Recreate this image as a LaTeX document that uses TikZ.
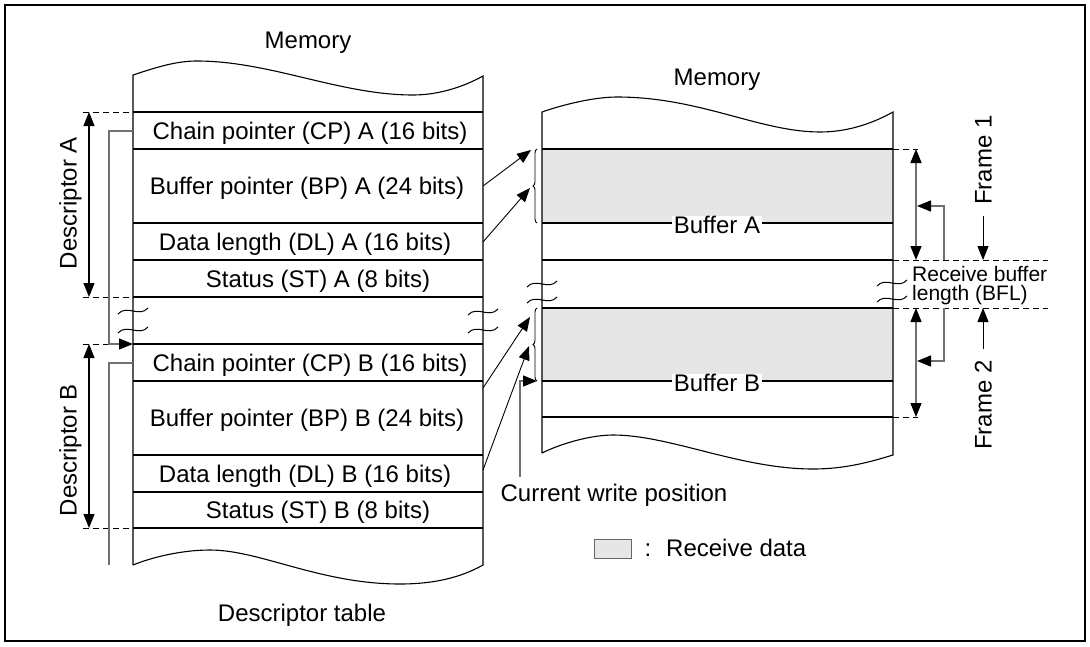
\documentclass[tikz,border=0pt]{standalone}
\usepackage{fontspec}
\setmainfont{Liberation Sans}
\usetikzlibrary{arrows.meta,decorations.pathreplacing}
\definecolor{rcv}{HTML}{E6E6E6}
\definecolor{lgray}{HTML}{707070}
\begin{document}
\begin{tikzpicture}[x=1pt,y=-1pt,
  every node/.style={font=\fontsize{24}{28}\selectfont, inner sep=0pt},
  lbl/.style={text height=17.2pt,text depth=0pt},
  ln/.style={line width=1.1pt},
  tip/.style={-{Triangle[length=14pt,width=11pt,color=black]}},
  dtip/.style={{Triangle[length=14pt,width=11pt,color=black]}-{Triangle[length=14pt,width=11pt,color=black]}},
  gl/.style={draw=lgray, line width=1.3pt},
  dsh/.style={dash pattern=on 6pt off 4pt, line width=1pt},
  brc/.style={decorate, decoration={brace, amplitude=4pt}, line width=0.9pt},
  wavy/.pic={\draw[line width=1pt] (-15,3) .. controls (-6,-7) and (6,7) .. (15,-3);}
]
\useasboundingbox (0,0) rectangle (1090,646);
\draw[line width=1.5pt] (5,5) rectangle (1085,641);

% ---------- Descriptor table ----------
\draw[ln] (133,565) -- (133,75)
  .. controls (160,66) and (178,61) .. (197,61)
  .. controls (270,61) and (340,95) .. (413,95)
  .. controls (440,95) and (465,86) .. (483,76) -- (483,565)
  .. controls (465,575) and (440,584) .. (400,584)
  .. controls (320,584) and (260,550) .. (210,550)
  .. controls (180,550) and (150,558) .. (133,565);
\foreach \yy in {112,149,223,260,297,344,381,455,492,528}
  \draw[ln] (133,\yy) -- (483,\yy);

\node[lbl] (cpa) at (310,130.5) {Chain pointer (CP) A (16 bits)};
\node[lbl] (bpa) at (307,186) {Buffer pointer (BP) A (24 bits)};
\node[lbl] (dla) at (305,241.5) {Data length (DL) A (16 bits)};
\node[lbl] (sta) at (318,278.5) {Status (ST) A (8 bits)};
\node[lbl] (cpb) at (310,362.5) {Chain pointer (CP) B (16 bits)};
\node[lbl] (bpb) at (307,418) {Buffer pointer (BP) B (24 bits)};
\node[lbl] (dlb) at (305,473.5) {Data length (DL) B (16 bits)};
\node[lbl] (stb) at (318,510) {Status (ST) B (8 bits)};

\node[lbl] (mem1) at (308,40) {Memory};
\node[lbl] (dtab) at (302,613) {Descriptor table};

% squiggles of the table
\pic at (133,311) {wavy};
\pic at (133,330) {wavy};
\pic at (483,312) {wavy};
\pic at (483,330) {wavy};

% descriptor extents
\draw[dsh] (83,112) -- (133,112);
\draw[dsh] (83,297) -- (133,297);
\draw[dsh] (83,344) -- (109,344);
\draw[dsh] (83,528) -- (133,528);
\coordinate (da1) at (89,112);
\coordinate (da2) at (89,297);
\coordinate (db1) at (89,344);
\coordinate (db2) at (89,528);
\draw[ln,dtip] (da1) -- (da2);
\draw[ln,dtip] (db1) -- (db2);
\node[lbl,rotate=90] (desca) at (68,203) {Descriptor A};
\node[lbl,rotate=90] (descb) at (68,450) {Descriptor B};

% chain pointer links
\coordinate (cpaout) at (133,131);
\coordinate (cpbin) at (133,344);
\coordinate (cpbout) at (133,363);
\coordinate (cpbend) at (109,565);
\draw[gl,tip] (cpaout) -| (109,344) -- (cpbin);
\draw[gl] (cpbout) -| (cpbend);

% ---------- Receive memory ----------
\fill[rcv] (542,149) rectangle (893,223);
\fill[rcv] (542,308) rectangle (893,381);
\draw[ln] (542,453) -- (542,112)
  .. controls (565,104) and (595,97) .. (617,97)
  .. controls (700,97) and (760,132) .. (820,132)
  .. controls (850,132) and (875,122) .. (893,112) -- (893,455)
  .. controls (870,462) and (845,469) .. (813,469)
  .. controls (740,469) and (670,435) .. (613,435)
  .. controls (590,435) and (560,444) .. (542,453);
\foreach \yy in {149,223,260,308,381,417}
  \draw[ln] (542,\yy) -- (893,\yy);
\node[lbl] (mem2) at (717,77) {Memory};
\node[lbl,fill=white,inner xsep=2pt] (bufa) at (717,225) {Buffer A};
\node[lbl,fill=white,inner xsep=2pt] (bufb) at (717,383) {Buffer B};

\pic at (542,284) {wavy};
\pic at (542,300) {wavy};
\pic at (892,283) {wavy};
\pic at (892,299) {wavy};

% braces
\draw[brc] (537,223) -- (537,149);
\draw[brc] (537,381) -- (537,308);
\coordinate (bratop) at (531,150);
\coordinate (bramid) at (530,188);
\coordinate (brbtop) at (530,317);
\coordinate (brbmid) at (529,346);
\draw[line width=0.9pt,tip] (483,186) -- (bratop);
\draw[line width=0.9pt,tip] (483,242) -- (bramid);
\draw[line width=0.9pt,tip] (483,388) -- (brbtop);
\draw[line width=0.9pt,tip] (483,470) -- (brbmid);

% current write position
\node[lbl] (cwp) at (614,493) {Current write position};
\coordinate (cwpin) at (537,381);
\draw[gl,tip] (520,477) |- (cwpin);

% frames
\draw[dsh] (893,149) -- (918,149);
\draw[dsh] (893,260) -- (1048,260);
\draw[dsh] (893,308) -- (1048,308);
\draw[dsh] (893,417) -- (918,417);
\coordinate (f1a) at (916,149);
\coordinate (f1b) at (916,260);
\coordinate (f2a) at (916,308);
\coordinate (f2b) at (916,417);
\draw[gl,dtip] (f1a) -- (f1b);
\draw[gl,dtip] (f2a) -- (f2b);
\coordinate (bfl1) at (917,206);
\coordinate (bfl2) at (917,361);
\draw[gl,tip] (944,260) |- (bfl1);
\draw[gl,tip] (944,308) |- (bfl2);
\node[lbl,rotate=90] (fr1) at (983,160) {Frame 1};
\node[lbl,rotate=90] (fr2) at (983,405) {Frame 2};
\coordinate (fr1e) at (983,260);
\coordinate (fr2e) at (983,308);
\draw[line width=1pt,tip] (983,216) -- (fr1e);
\draw[line width=1pt,tip] (983,349) -- (fr2e);
\node[font=\fontsize{21}{21}\selectfont,anchor=west,text height=15pt,text depth=0pt] (bfla) at (912,274) {Receive buffer};
\node[font=\fontsize{21}{21}\selectfont,anchor=west,text height=15pt,text depth=0pt] (bflb) at (912,293) {length (BFL)};

% legend
\draw[fill=rcv,draw=black!60,line width=1pt] (594,539) rectangle (631,558);
\node[lbl] (colon) at (648,548) {:};
\node[lbl,anchor=west] (rcvd) at (666,548) {Receive data};
\end{tikzpicture}
\end{document}
